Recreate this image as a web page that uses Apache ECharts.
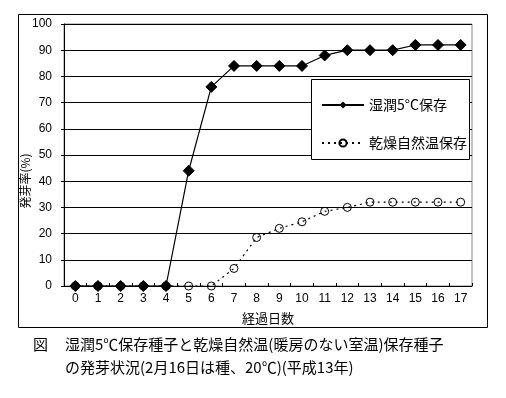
<!DOCTYPE html>
<html><head><meta charset="utf-8">
<script src="https://cdn.jsdelivr.net/npm/echarts@6/dist/echarts.min.js"></script>
<style>html,body{margin:0;padding:0;background:#fff}#c{width:506px;height:398px}</style>
</head><body><div id="c"></div>
<script>
var days = ['0','1','2','3','4','5','6','7','8','9','10','11','12','13','14','15','16','17'];
var moist5C = [0,0,0,0,0,44,76,84,84,84,84,88,90,90,90,92,92,92];
var dryAmbient = [0,0,0,0,0,0,0,6.7,18.5,22,24.5,28.5,30,32,32,32,32,32];
var seriesNames = ['湿潤5°C保存','乾燥自然温保存'];
var xTitle = '経過日数';
var yTitle = '発芽率(%)';
var captionHead = '図';
var captionLines = ['湿潤5℃保存種子と乾燥自然温(暖房のない室温)保存種子','の発芽状況(2月16日は種、20℃)(平成13年)'];

var jp = '"Noto Sans CJK JP", sans-serif';
var num = '"Liberation Sans", Arial, sans-serif';
var chart = echarts.init(document.getElementById('c'), null, {renderer:'canvas'});
chart.setOption({
  animation:false,
  backgroundColor:'#fff',
  grid:{left:64, top:24, right:34, bottom:112, show:true, borderColor:'#888', borderWidth:1},
  xAxis:{type:'category', data:days, boundaryGap:true,
    axisLine:{lineStyle:{color:'#000', width:1}},
    axisTick:{show:true, inside:true, length:3, lineStyle:{color:'#000'}},
    axisLabel:{color:'#000', fontFamily:num, fontSize:12, margin:7},
    name:xTitle, nameLocation:'middle', nameGap:26,
    nameTextStyle:{color:'#000', fontFamily:jp, fontSize:13}},
  yAxis:{type:'value', min:0, max:100, interval:10,
    axisLine:{show:true, lineStyle:{color:'#000', width:1}},
    axisTick:{show:true, length:3, lineStyle:{color:'#000'}},
    axisLabel:{color:'#000', fontFamily:num, fontSize:12, margin:12},
    splitLine:{show:true, lineStyle:{color:'#000', width:1}}},
  legend:{orient:'vertical', left:316, top:93, z:50, padding:5, itemWidth:42, itemHeight:9, itemGap:24,
    textStyle:{color:'#000', fontFamily:jp, fontSize:14},
    data:[seriesNames[0], seriesNames[1]]},
  graphic:[
    {type:'rect', shape:{x:18.5, y:14.5, width:469, height:313}, style:{fill:'none', stroke:'#000', lineWidth:1}, z:-1},
    {type:'rect', shape:{x:311.5, y:79.5, width:158, height:80}, style:{fill:'#fff', stroke:'#000', lineWidth:1}, z:5},
    {type:'text', x:25, y:181, rotation:Math.PI/2, style:{text:yTitle, fill:'#000', font:'12px '+jp, align:'center', verticalAlign:'middle'}},
    {type:'text', left:33, top:337, style:{text:captionHead, fill:'#000', font:'15px '+jp}},
    {type:'text', left:65, top:337, style:{text:captionLines[0], fill:'#000', font:'15px '+jp}},
    {type:'text', left:65, top:360, style:{text:captionLines[1], fill:'#000', font:'15px '+jp}}
  ],
  series:[
    {name:seriesNames[1], type:'line', data:dryAmbient, z:2,
      symbol:'circle', symbolSize:8,
      lineStyle:{color:'#000', width:1.2, type:[2,4]},
      itemStyle:{color:'transparent', borderColor:'#000', borderWidth:1}},
    {name:seriesNames[0], type:'line', data:moist5C, z:3,
      symbol:'diamond', symbolSize:11,
      lineStyle:{color:'#000', width:1.2, type:'solid'},
      itemStyle:{color:'#000', borderColor:'#000'}}
  ]
});
</script></body></html>
